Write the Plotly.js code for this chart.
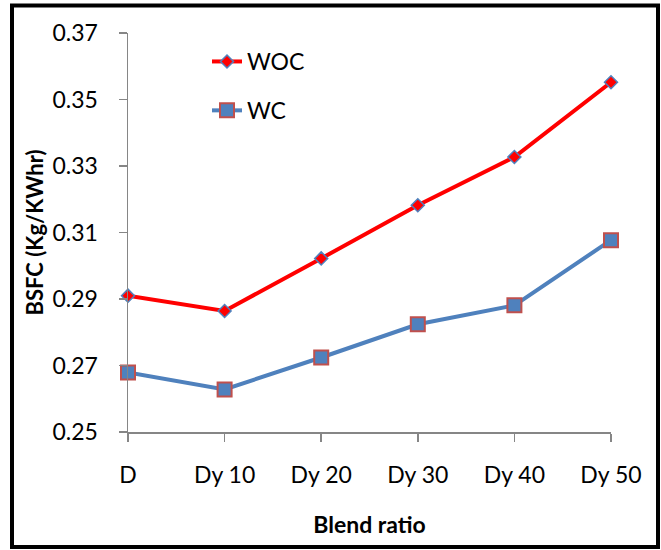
<!DOCTYPE html>
<html>
<head>
<meta charset="utf-8">
<script src="https://cdn.plot.ly/plotly-3.0.1.min.js"></script>
<style>
  html, body { margin: 0; padding: 0; background: #ffffff; }
  #chart { width: 661px; height: 550px; }
</style>
</head>
<body>
<div id="chart"></div>
<script>
// ---- data ----
const blendRatios = ["D", "Dy 10", "Dy 20", "Dy 30", "Dy 40", "Dy 50"];
const bsfcWOC = [0.291, 0.2864, 0.3022, 0.3182, 0.3327, 0.3552];
const bsfcWC  = [0.2679, 0.2628, 0.2724, 0.2824, 0.2881, 0.3077];
const yTickValues = [0.25, 0.27, 0.29, 0.31, 0.33, 0.35, 0.37];
const yTickLabels = ["0.25", "0.27", "0.29", "0.31", "0.33", "0.35", "0.37"];

// ---- layout geometry ----
const W = 661, H = 550;
const M = { l: 128, r: 50, t: 33, b: 118 };
const pw = W - M.l - M.r, ph = H - M.t - M.b;
const px = v => (v - M.l) / pw;          // pixel -> paper x
const py = v => (H - M.b - v) / ph;      // pixel -> paper y

const FONT = "Lato, 'Open Sans', 'DejaVu Sans', sans-serif";
const AXIS_GREY = "#868686";

const traces = [
  {
    x: blendRatios, y: bsfcWOC, name: "WOC", type: "scatter", mode: "lines+markers",
    legendgroup: "woc",
    line: { color: "#FF0000", width: 4 },
    marker: { symbol: "diamond", size: 10, color: "#FF0000", line: { color: "#4F81BD", width: 1.5 } },
    cliponaxis: false
  },
  {
    x: blendRatios, y: bsfcWC, name: "WC", type: "scatter", mode: "lines+markers",
    legendgroup: "wc",
    line: { color: "#4F81BD", width: 4 },
    marker: { symbol: "square", size: 14, color: "#4F81BD", line: { color: "#C0504D", width: 2 } },
    cliponaxis: false
  }
];

const layout = {
  width: W, height: H,
  margin: M,
  paper_bgcolor: "#ffffff", plot_bgcolor: "#ffffff",
  font: { family: FONT, size: 23, color: "#000000" },
  showlegend: true,
  legend: {
    x: px(207), y: py(40), xanchor: "left", yanchor: "top",
    bgcolor: "rgba(0,0,0,0)", borderwidth: 0,
    font: { family: FONT, size: 23, color: "#000000" },
    tracegroupgap: 16
  },
  xaxis: {
    type: "category",
    range: [0, blendRatios.length - 1],
    showgrid: false, zeroline: false,
    showline: true, linecolor: AXIS_GREY, linewidth: 1.5,
    ticks: "outside", ticklen: 8, tickwidth: 1.5, tickcolor: AXIS_GREY,
    ticklabelstandoff: 14,
    tickfont: { family: FONT, size: 23, color: "#000000" },
    title: { text: "<b>Blend ratio</b>", font: { family: FONT, size: 23, color: "#000000" }, standoff: 30 },
    fixedrange: true
  },
  yaxis: {
    range: [0.25, 0.37],
    tickvals: yTickValues, ticktext: yTickLabels,
    showgrid: false, zeroline: false,
    showline: true, linecolor: AXIS_GREY, linewidth: 1.5,
    ticks: "outside", ticklen: 8, tickwidth: 1.5, tickcolor: AXIS_GREY,
    ticklabelstandoff: 16,
    tickfont: { family: FONT, size: 23, color: "#000000" },
    title: { text: "<b>BSFC (Kg/KWhr)</b>", font: { family: FONT, size: 22, color: "#000000" }, standoff: 2 },
    fixedrange: true
  },
  shapes: [
    {
      type: "rect", xref: "paper", yref: "paper",
      x0: px(12), x1: px(658), y0: py(547), y1: py(5.5),
      line: { color: "#000000", width: 4 }, fillcolor: "rgba(0,0,0,0)", layer: "above"
    }
  ]
};

Plotly.newPlot("chart", traces, layout, { displayModeBar: false, staticPlot: true });
</script>
</body>
</html>
